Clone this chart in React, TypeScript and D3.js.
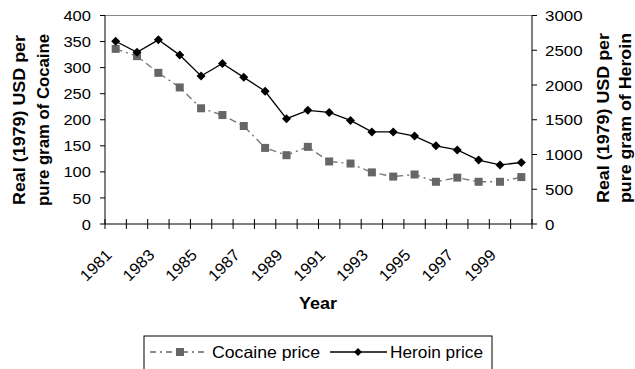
import React from "react";
import * as d3 from "d3";

const years = d3.range(1981, 2001).map(String);
const cocaine = [336, 322, 290, 262, 222, 209, 188, 146, 132, 148, 120, 116, 99, 91, 95, 81, 89, 81, 81, 90];
const heroin = [2630, 2470, 2650, 2430, 2130, 2310, 2110, 1910, 1515, 1635, 1605, 1490, 1325, 1325, 1265, 1125, 1065, 920, 850, 885];
const leftTicks = [0, 50, 100, 150, 200, 250, 300, 350, 400];
const rightTicks = [0, 500, 1000, 1500, 2000, 2500, 3000];
const xLabels = ["1981", "1983", "1985", "1987", "1989", "1991", "1993", "1995", "1997", "1999"];

const W = 635, H = 369;
const L = 105, R = 532, T = 15.5, B = 224;
const FONT = "'Liberation Sans', Arial, Helvetica, sans-serif";
const DIGIT = 9.2;

export default function App() {
  const x = d3.scaleBand<string>().domain(years).range([L, R]);
  const yL = d3.scaleLinear().domain([0, 400]).range([B, T]);
  const yR = d3.scaleLinear().domain([0, 3000]).range([B, T]);
  const cx = (d: string) => (x(d) as number) + x.bandwidth() / 2;

  const cocLine = d3.line<number>().x((_, i) => cx(years[i])).y((d) => yL(d));
  const herLine = d3.line<number>().x((_, i) => cx(years[i])).y((d) => yR(d));

  const boundaries = d3.range(years.length + 1).map((i) => L + i * x.bandwidth());
  const diamond = (px: number, py: number, r = 4.5) =>
    `M${px},${py - r}L${px + r},${py}L${px},${py + r}L${px - r},${py}Z`;

  return (
    <svg width={W} height={H} style={{ position: "absolute", left: 0, top: 0, background: "#fff" }} fontFamily={FONT}>
      <rect x={0} y={0} width={W} height={H} fill="#fff" />
      {/* plot top border */}
      <line x1={L} x2={R} y1={T} y2={T} stroke="#888" strokeWidth={1} />
      {/* left axis */}
      <line x1={L} x2={L} y1={T} y2={B} stroke="#000" strokeWidth={1} />
      {leftTicks.map((t) => (
        <g key={"l" + t}>
          <line x1={L - 5} x2={L} y1={yL(t)} y2={yL(t)} stroke="#000" />
          <text x={91} y={yL(t)} dy="0.36em" textAnchor="end" fontSize={15.5}
            textLength={String(t).length * DIGIT} lengthAdjust="spacingAndGlyphs">{t}</text>
        </g>
      ))}
      {/* right axis */}
      <line x1={R} x2={R} y1={T} y2={B} stroke="#000" strokeWidth={1} />
      {rightTicks.map((t) => (
        <g key={"r" + t}>
          <line x1={R} x2={R + 5} y1={yR(t)} y2={yR(t)} stroke="#000" />
          <text x={545} y={yR(t)} dy="0.36em" textAnchor="start" fontSize={15.5}
            textLength={String(t).length * 9.4} lengthAdjust="spacingAndGlyphs">{t}</text>
        </g>
      ))}
      {/* x axis */}
      <line x1={L} x2={R} y1={B} y2={B} stroke="#000" strokeWidth={1} />
      {boundaries.map((bx, i) => (
        <line key={"b" + i} x1={bx} x2={bx} y1={B - 5} y2={B + 5} stroke="#000" />
      ))}
      {xLabels.map((lab) => (
        <text key={lab} transform={`translate(${cx(lab) - 7},${B + 28}) rotate(-45)`} textAnchor="end"
          dy="0.36em" fontSize={16} textLength={37} lengthAdjust="spacingAndGlyphs">{lab}</text>
      ))}
      <text x={318} y={309} textAnchor="middle" fontSize={16} fontWeight="bold"
        textLength={38} lengthAdjust="spacingAndGlyphs">Year</text>

      {/* axis titles */}
      <g transform={`translate(25,120) rotate(-90)`}>
        <text textAnchor="middle" fontSize={16} fontWeight="bold" textLength={170} lengthAdjust="spacingAndGlyphs">Real (1979) USD per</text>
      </g>
      <g transform={`translate(49,120) rotate(-90)`}>
        <text textAnchor="middle" fontSize={16} fontWeight="bold" textLength={172} lengthAdjust="spacingAndGlyphs">pure gram of Cocaine</text>
      </g>
      <g transform={`translate(609,118) rotate(-90)`}>
        <text textAnchor="middle" fontSize={16} fontWeight="bold" textLength={170} lengthAdjust="spacingAndGlyphs">Real (1979) USD per</text>
      </g>
      <g transform={`translate(631,118) rotate(-90)`}>
        <text textAnchor="middle" fontSize={16} fontWeight="bold" textLength={170} lengthAdjust="spacingAndGlyphs">pure gram of Heroin</text>
      </g>

      {/* cocaine series */}
      <path d={cocLine(cocaine) || ""} fill="none" stroke="#777" strokeWidth={1.4} strokeDasharray="7,4,2,4" />
      {cocaine.map((v, i) => (
        <rect key={"c" + i} x={cx(years[i]) - 4} y={yL(v) - 4} width={8} height={8} fill="#666" />
      ))}
      {/* heroin series */}
      <path d={herLine(heroin) || ""} fill="none" stroke="#000" strokeWidth={1.3} />
      {heroin.map((v, i) => (
        <path key={"h" + i} d={diamond(cx(years[i]), yR(v))} fill="#000" />
      ))}

      {/* legend */}
      <rect x={144} y={336} width={348} height={40} fill="#fff" stroke="#000" strokeWidth={1} />
      <line x1={150} x2={208} y1={352} y2={352} stroke="#666" strokeWidth={1.5} strokeDasharray="6,4,2,4" />
      <rect x={176} y={348} width={8} height={8} fill="#666" />
      <text x={212} y={358} fontSize={16.5} textLength={108} lengthAdjust="spacingAndGlyphs">Cocaine price</text>
      <line x1={330} x2={387} y1={352} y2={352} stroke="#000" strokeWidth={1.3} />
      <path d={diamond(358, 352, 4)} fill="#000" />
      <text x={390} y={358} fontSize={16.5} textLength={93} lengthAdjust="spacingAndGlyphs">Heroin price</text>
    </svg>
  );
}
